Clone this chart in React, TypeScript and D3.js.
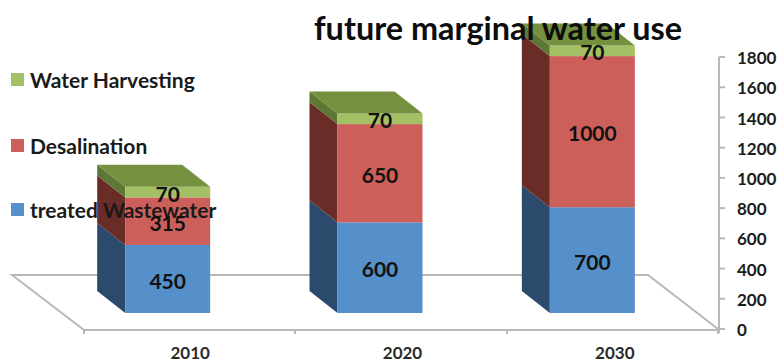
import React from "react";
import * as d3 from "d3";

const W = 777;
const H = 362;

const years = ["2010", "2020", "2030"];
const wastewater = [450, 600, 700];
const desalination = [315, 650, 1000];
const harvesting = [70, 70, 70];
const yTicks = [0, 200, 400, 600, 800, 1000, 1200, 1400, 1600, 1800];
const legendNames = ["Water Harvesting", "Desalination", "treated Wastewater"];
const legendRows = [79, 145, 209];

const FONT = "Lato, 'Open Sans', sans-serif";
const DEPTH_X = -28;
const DEPTH_Y = -22;
const BAR_W = 85;

const palette = {
  wastewater: { front: "#5590cb", side: "#2c4b6c", top: "#3f6d9c" },
  desalination: { front: "#cd5f5b", side: "#6a2c27", top: "#8f3f3a" },
  harvesting: { front: "#a3c164", side: "#5f7734", top: "#75903f" },
};
type Key = keyof typeof palette;

const rows = years.map((year, i) => ({
  year,
  wastewater: wastewater[i],
  desalination: desalination[i],
  harvesting: harvesting[i],
}));
const keys: Key[] = ["wastewater", "desalination", "harvesting"];

export default function App() {
  const y = d3.scaleLinear().domain([0, 1800]).range([329, 57]);
  const x = d3.scaleBand().domain(years).range([84, 721]);
  const stacked = d3.stack<(typeof rows)[number], Key>().keys(keys)(rows);
  const poly = d3.line();
  const base = 16; // bars stand forward of the front floor edge

  const frontLeft = (year: string) => (x(year) as number) + x.bandwidth() / 2 - 22.5 - BAR_W / 2;
  const grey = "#b8b8b8";

  return (
    <svg
      width={W}
      height={H}
      viewBox={`0 0 ${W} ${H}`}
      style={{ position: "absolute", left: 0, top: 0, background: "#fff" }}
      fontFamily={FONT}
      fontWeight={700}
    >
      {/* floor of the 3D plot */}
      <path
        d={poly([[84, 330], [12, 275], [648, 275], [718, 329]]) as string}
        fill="none"
        stroke={grey}
        strokeWidth={2}
      />
      <line x1={84} x2={719} y1={330} y2={330} stroke={grey} strokeWidth={2} />
      {[84, 295, 507, 718].map((t) => (
        <line key={t} x1={t} x2={t} y1={330} y2={334} stroke={grey} strokeWidth={2} />
      ))}

      {/* value axis */}
      <line x1={719} x2={719} y1={y(1800)} y2={y(0) + 4} stroke={grey} strokeWidth={2} />
      {yTicks.map((t) => (
        <g key={t}>
          <line x1={719} x2={725} y1={y(t)} y2={y(t)} stroke={grey} strokeWidth={2} />
          <text x={737} y={y(t) + 1} dy="0.36em" fontSize={17} fill="#1c1c1c">
            {t}
          </text>
        </g>
      ))}

      {/* stacked 3D columns */}
      {years.map((year, i) => {
        const x0 = frontLeft(year);
        const x1 = x0 + BAR_W;
        return (
          <g key={year}>
            {stacked.map((layer) => {
              const c = palette[layer.key as Key];
              const yb = y(layer[i][0]) - base;
              const yt = y(layer[i][1]) - base;
              return (
                <g key={layer.key}>
                  <path
                    d={poly([[x0, yb], [x0, yt], [x0 + DEPTH_X, yt + DEPTH_Y], [x0 + DEPTH_X, yb + DEPTH_Y]]) + "Z"}
                    fill={c.side}
                  />
                  <rect x={x0} y={yt} width={BAR_W} height={yb - yt} fill={c.front} />
                  {layer.key === "harvesting" && (
                    <path
                      d={poly([[x0, yt], [x1, yt], [x1 + DEPTH_X, yt + DEPTH_Y], [x0 + DEPTH_X, yt + DEPTH_Y]]) + "Z"}
                      fill={c.top}
                    />
                  )}
                </g>
              );
            })}
            <text x={(x(year) as number) + x.bandwidth() / 2} y={353} dy="0.36em" textAnchor="middle" fontSize={17} fill="#2a2a2a">
              {year}
            </text>
          </g>
        );
      })}

      {/* legend */}
      {keys
        .slice()
        .reverse()
        .map((k, i) => (
          <g key={k}>
            <rect x={11} y={legendRows[i] - 6} width={13} height={13} fill={palette[k].front} />
            <text x={30} y={legendRows[i] + 1} dy="0.36em" fontSize={21} fill="#1a1a1a">
              {legendNames[i]}
            </text>
          </g>
        ))}

      {/* segment value labels */}
      {years.map((year, i) =>
        stacked.map((layer) => (
          <text
            key={year + layer.key}
            x={frontLeft(year) + BAR_W / 2}
            y={(y(layer[i][0]) + y(layer[i][1])) / 2 - base + 2}
            dy="0.36em"
            textAnchor="middle"
            fontSize={21}
            fill="#111"
          >
            {layer[i][1] - layer[i][0]}
          </text>
        ))
      )}

      <text x={314} y={28} dy="0.36em" fontSize={32.4} fill="#0d0d0d">
        future marginal water use
      </text>
    </svg>
  );
}
